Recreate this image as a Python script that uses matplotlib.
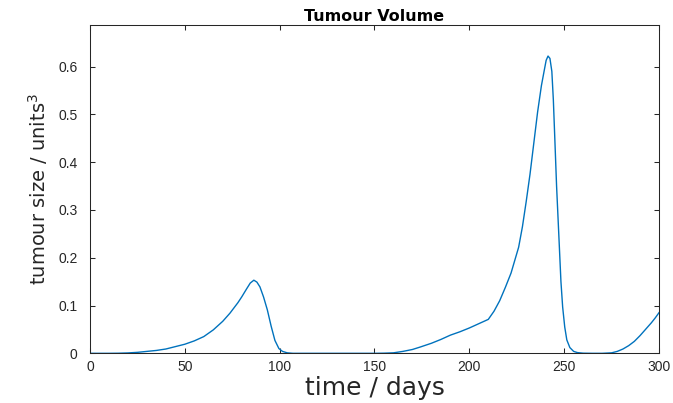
import matplotlib
matplotlib.use('Agg')
import matplotlib.pyplot as plt

# Simulated tumour volume over the treatment period
days = [0, 10, 15, 20, 25, 30, 35, 40, 45, 50, 55, 60, 65, 70, 73.8, 78, 80,
        82.6, 84.5, 86.4, 88, 89.6, 91.5, 93.5, 95.5, 97.5, 99.6, 101.5, 104,
        107, 120, 140, 150, 155, 160, 165, 170, 174, 180, 185, 190, 195, 200,
        205, 210, 213, 216, 219, 222, 224, 226, 228, 230, 232, 234, 236, 238,
        239.5, 240.5, 241.5, 242.5, 243.5, 244.3, 245.1, 246, 247.3, 248.3,
        249.2, 250.3, 251.4, 253, 255, 257, 260, 265, 270, 275, 278, 281, 284,
        287, 290, 292, 294, 296, 298, 300]
volume = [0, 0, 0.0002, 0.0008, 0.002, 0.004, 0.006, 0.009, 0.014, 0.019,
          0.026, 0.035, 0.049, 0.067, 0.084, 0.106, 0.118, 0.135, 0.147, 0.153,
          0.149, 0.139, 0.118, 0.091, 0.057, 0.027, 0.010, 0.004, 0.001, 0, 0,
          0, 0, 0.0003, 0.001, 0.004, 0.008, 0.013, 0.021, 0.029, 0.038, 0.045,
          0.053, 0.062, 0.071, 0.088, 0.110, 0.138, 0.168, 0.195, 0.222, 0.265,
          0.318, 0.375, 0.440, 0.505, 0.56, 0.592, 0.613, 0.622, 0.617, 0.59,
          0.53, 0.446, 0.35, 0.237, 0.15, 0.097, 0.055, 0.028, 0.012, 0.004,
          0.0015, 0.0003, 0, 0, 0.001, 0.004, 0.009, 0.016, 0.025, 0.037, 0.046,
          0.055, 0.064, 0.074, 0.085]

xticks = [0, 50, 100, 150, 200, 250, 300]
yticks = [0, 0.1, 0.2, 0.3, 0.4, 0.5, 0.6]

AXCOL = '#262626'

fig = plt.figure(figsize=(6.73, 4.03), dpi=100)
ax = fig.add_axes([0.1337, 0.1233, 0.8455, 0.8147])

ax.plot(days, volume, color='#0072BD', lw=1.0)

ax.set_xlim(0, 300)
ax.set_ylim(0, 0.687)
ax.set_xticks(xticks)
ax.set_yticks(yticks)
ax.set_xticklabels([str(t) for t in xticks])
ax.set_yticklabels(['0' if t == 0 else f'{t:.1f}' for t in yticks])

for s in ax.spines.values():
    s.set_color(AXCOL)
    s.set_linewidth(0.75)
ax.tick_params(direction='in', length=3.5, width=0.75, color=AXCOL,
               top=True, right=True, labelcolor=AXCOL, labelsize=10)
ax.tick_params(axis='x', pad=5)
ax.tick_params(axis='y', pad=9)
for lab in ax.get_xticklabels() + ax.get_yticklabels():
    lab.set_family('Liberation Sans')

ax.set_title('Tumour Volume', fontsize=11.5, fontweight='bold',
             family='DejaVu Sans', color='black', pad=3)
ax.set_xlabel('time / days', fontsize=18, family='DejaVu Sans', color=AXCOL,
              labelpad=1)
ax.set_ylabel('tumour size / units$^3$', fontsize=14, family='DejaVu Sans',
              color=AXCOL, labelpad=6)

fig.savefig('out.png', dpi=100)
